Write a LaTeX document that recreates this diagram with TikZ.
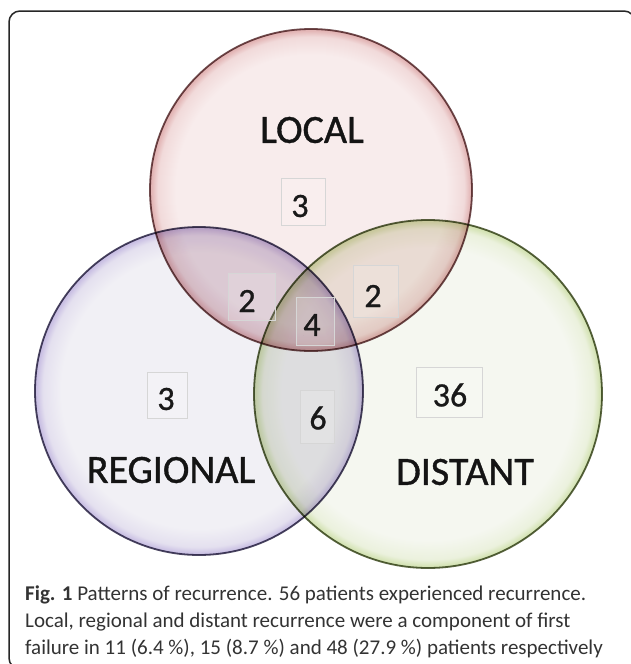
\documentclass[tikz,border=0pt]{standalone}
\usepackage{fontspec}
\setmainfont{Carlito}
\newfontfamily\labelfont{Carlito}[FakeBold=0.9]

% set colours: interior, inner glow, rim, outline
\definecolor{locIn}{HTML}{F8ECEC}
\definecolor{locMid}{HTML}{F1DADA}
\definecolor{locEdge}{HTML}{E2B4B4}
\definecolor{locLine}{HTML}{6F4B4D}
\definecolor{regIn}{HTML}{F1F0F5}
\definecolor{regMid}{HTML}{E4E0EF}
\definecolor{regEdge}{HTML}{C9BFE3}
\definecolor{regLine}{HTML}{4A4560}
\definecolor{disIn}{HTML}{F5F7F0}
\definecolor{disMid}{HTML}{EBF1DD}
\definecolor{disEdge}{HTML}{D3E2B2}
\definecolor{disLine}{HTML}{58633F}
\definecolor{tintLR}{HTML}{EFE8EF}
\definecolor{tintLD}{HTML}{FAF5F3}
\definecolor{tintRD}{HTML}{F5F4F8}
\definecolor{capText}{HTML}{333333}

\pgfdeclareradialshading{shLocal}{\pgfpoint{0bp}{0bp}}{color(0bp)=(locIn); color(21bp)=(locIn); color(23.8bp)=(locMid); color(24.8bp)=(locEdge); color(50bp)=(locEdge)}
\pgfdeclareradialshading{shRegional}{\pgfpoint{0bp}{0bp}}{color(0bp)=(regIn); color(21bp)=(regIn); color(23.8bp)=(regMid); color(24.8bp)=(regEdge); color(50bp)=(regEdge)}
\pgfdeclareradialshading{shDistant}{\pgfpoint{0bp}{0bp}}{color(0bp)=(disIn); color(21bp)=(disIn); color(23.8bp)=(disMid); color(24.8bp)=(disEdge); color(50bp)=(disEdge)}

\begin{document}
\begin{tikzpicture}[x=1pt,y=-1pt,
  setlabel/.style={font=\labelfont\fontsize{40}{40}\selectfont, text=black!92, inner sep=0pt},
  count/.style={font=\labelfont\fontsize{34}{34}\selectfont, text=black!90, inner sep=0pt},
  countbox/.style={draw=black!16, line width=0.9pt, fill=white, fill opacity=0.15, inner sep=0pt},
  capline/.style={anchor=base west, inner sep=0pt, text=capText, font=\fontsize{21}{27}\selectfont},
  rim/.style={line width=1.8pt}]

\useasboundingbox (0,0) rectangle (630,664);
\fill[white] (0,0) rectangle (630,664);

% outer frame of the figure panel
\draw[line width=1.5pt, black!85, rounded corners=11pt] (9,11) rectangle (635,669);

% centres of the three sets
\coordinate (cL) at (311,190);
\coordinate (cR) at (199,391);
\coordinate (cD) at (428,394);

\begin{scope}[blend group=multiply]
  \shade[shading=shLocal]    (cL) circle (161pt);
  \shade[shading=shRegional] (cR) circle (164pt);
  \shade[shading=shDistant]  (cD) circle (174pt);
  % extra depth where the sets overlap
  \begin{scope}
    \clip (cL) circle (161pt);
    \fill[tintLR] (cR) circle (164pt);
    \fill[tintLD] (cD) circle (174pt);
  \end{scope}
  \begin{scope}
    \clip (cR) circle (164pt);
    \fill[tintRD] (cD) circle (174pt);
  \end{scope}
  \draw[rim, draw=locLine] (cL) circle (161pt);
  \draw[rim, draw=regLine] (cR) circle (164pt);
  \draw[rim, draw=disLine] (cD) circle (174pt);
\end{scope}

% count boxes
\node[countbox, minimum width=44pt, minimum height=47pt] (bL)  at (303,201.5) {};
\node[countbox, minimum width=47pt, minimum height=47pt] (bLR) at (251.5,297) {};
\node[countbox, minimum width=45pt, minimum height=52pt] (bLD) at (375.5,291) {};
\node[countbox, minimum width=38pt, minimum height=48pt] (bLRD) at (315,321) {};
\node[countbox, minimum width=40pt, minimum height=46pt] (bR)  at (167,395) {};
\node[countbox, minimum width=34pt, minimum height=53pt] (bRD) at (317,416.5) {};
\node[countbox, minimum width=66pt, minimum height=50pt] (bD)  at (449,392) {};

% counts
\node[count] (nL)   at (300,206) {3};
\node[count] (nLR)  at (247,301) {2};
\node[count] (nLD)  at (373,296) {2};
\node[count] (nLRD) at (312,325) {4};
\node[count] (nR)   at (166,399) {3};
\node[count] (nRD)  at (318,418) {6};
\node[count] (nD)   at (450,395) {36};

% set names
\node[setlabel] (tL) at (312,130) {LOCAL};
\node[setlabel] (tR) at (171,470) {REGIONAL};
\node[setlabel] (tD) at (465,472) {DISTANT};

% caption
\node[capline] (cap1) at (25,600) {\textbf{Fig. 1} Patterns of recurrence. 56 patients experienced recurrence.};
\node[capline] (cap2) at (25,627) {Local, regional and distant recurrence were a component of first};
\node[capline] (cap3) at (25,654) {failure in 11 (6.4 \%), 15 (8.7 \%) and 48 (27.9 \%) patients respectively};
\end{tikzpicture}
\end{document}
